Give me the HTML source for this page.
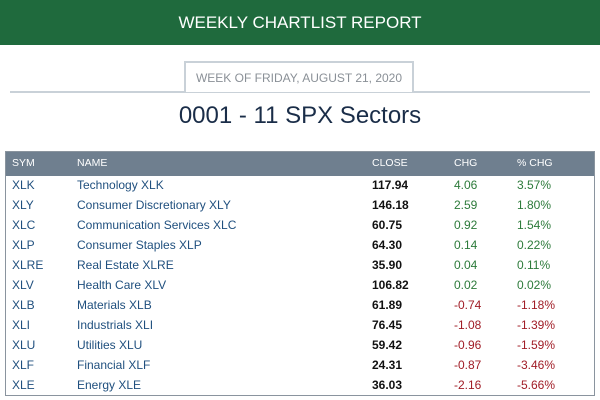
<!DOCTYPE html>
<html><head><meta charset="utf-8"><style>
body{margin:0;width:600px;height:400px;background:#fff;font-family:"Liberation Sans",sans-serif;position:relative;overflow:hidden}
#hdr{position:absolute;left:0;top:0;width:600px;height:45px;background:#1f6a3d;color:#fff;font-size:17px;text-align:center;line-height:45px}
#rule{position:absolute;left:10px;top:91px;width:580px;height:2px;background:#c9d1d8}
#date{position:absolute;left:184px;top:61px;width:230px;height:31px;border:2px solid #c9d1d8;border-bottom:none;background:#fff;color:#8a9097;font-size:12px;text-align:center;line-height:30px;box-sizing:border-box}
#title{position:absolute;left:0;top:102px;width:600px;text-align:center;font-size:24px;color:#1a2d48}
#tbl{position:absolute;left:5px;top:151px;width:590px;height:245px;border:1px solid #8a949e;box-sizing:border-box}
#th{position:absolute;left:0;top:0;width:100%;height:24px;background:#6f7f8f;color:#fff;font-size:10.5px}
.c{position:absolute;white-space:nowrap}
.row{position:absolute;left:0;width:100%;height:20px;font-size:12px;line-height:20px}
.sym,.nm{color:#1f4f7e}.cl{color:#111;font-weight:bold}.pos{color:#2c7a3a}.neg{color:#a01c26}
</style></head><body>
<div id="hdr">WEEKLY CHARTLIST REPORT</div>
<div id="rule"></div>
<div id="date">WEEK OF FRIDAY, AUGUST 21, 2020</div>
<div id="title">0001 - 11 SPX Sectors</div>
<div id="tbl">
<div id="th">
<span class="c" style="left:6px;top:5px">SYM</span><span class="c" style="left:71px;top:5px">NAME</span><span class="c" style="left:366px;top:5px">CLOSE</span><span class="c" style="left:448px;top:5px">CHG</span><span class="c" style="left:511px;top:5px">% CHG</span>
</div>
</div>
<script>
const syms=["XLK","XLY","XLC","XLP","XLRE","XLV","XLB","XLI","XLU","XLF","XLE"];
const names=["Technology XLK","Consumer Discretionary XLY","Communication Services XLC","Consumer Staples XLP","Real Estate XLRE","Health Care XLV","Materials XLB","Industrials XLI","Utilities XLU","Financial XLF","Energy XLE"];
const closes=[117.94,146.18,60.75,64.30,35.90,106.82,61.89,76.45,59.42,24.31,36.03];
const chgs=[4.06,2.59,0.92,0.14,0.04,0.02,-0.74,-1.08,-0.96,-0.87,-2.16];
const pcts=[3.57,1.80,1.54,0.22,0.11,0.02,-1.18,-1.39,-1.59,-3.46,-5.66];
const t=document.getElementById('tbl');
syms.forEach((s,i)=>{
const r=document.createElement('div');r.className='row';r.style.top=(23+i*20)+'px';


const cls=chgs[i]<0?'neg':'pos';
r.innerHTML=`<span class="c sym" style="left:6px">${s}</span><span class="c nm" style="left:71px">${names[i]}</span><span class="c cl" style="left:366px">${closes[i].toFixed(2)}</span><span class="c ${cls}" style="left:448px">${chgs[i].toFixed(2)}</span><span class="c ${cls}" style="left:511px">${pcts[i].toFixed(2)}%</span>`;
t.appendChild(r);});
</script>
</body></html>
